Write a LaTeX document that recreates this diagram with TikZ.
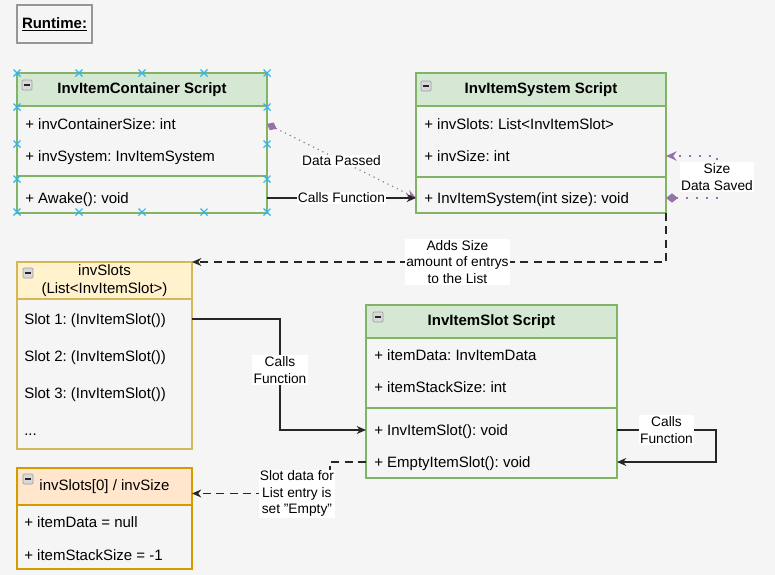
\documentclass[tikz,border=0pt]{standalone}
\usepackage{fontspec}
\setmainfont{Liberation Sans}
\usetikzlibrary{calc,arrows.meta}

\definecolor{canvas}{RGB}{245,245,245}
\definecolor{greenfill}{RGB}{213,232,212}
\definecolor{greenline}{RGB}{130,179,102}
\definecolor{yellowfill}{RGB}{255,242,204}
\definecolor{yellowline}{RGB}{214,182,86}
\definecolor{orangefill}{RGB}{255,230,204}
\definecolor{orangeline}{RGB}{215,155,0}
\definecolor{purpleline}{RGB}{150,115,166}
\definecolor{handleblue}{RGB}{41,182,242}
\definecolor{framegray}{RGB}{150,150,150}

\newcommand\itemfont{\fontsize{11.25}{13.5}\selectfont}
\newcommand\lblfont{\fontsize{10.3}{12.2}\selectfont}
\frenchspacing

\begin{document}
\begin{tikzpicture}[
    x=0.75pt, y=-0.75pt,
    classbox/.style={rectangle, anchor=north west, outer sep=0pt, inner sep=0pt, line width=0.9pt},
    headbox/.style={rectangle, anchor=north west, outer sep=0pt, inner sep=0pt, line width=0.9pt, font=\itemfont, align=center},
    member/.style={anchor=west, inner sep=0pt, font=\itemfont, text height=8pt, text depth=0pt},
    divider/.style={line width=0.9pt},
    collapse/.style={rectangle, minimum size=7.5pt, inner sep=0pt, fill=gray!30, draw=gray!75, line width=0.5pt, rounded corners=0.8pt,
        path picture={\draw[line width=1.1pt, gray!30!black] ([xshift=1.6pt]path picture bounding box.west) -- ([xshift=-1.6pt]path picture bounding box.east);}},
    lbl/.style={fill=white, text=black, inner sep=1pt, font=\lblfont, align=center},
    callarrow/.style={-{Stealth[length=7pt, width=6pt]}, line width=0.9pt, black!85},
    dasharrow/.style={callarrow, dash pattern=on 6pt off 4pt},
    dataarrow/.style={{Diamond[length=8pt, width=6.5pt]}-{Stealth[length=7pt, width=6pt]}, line width=0.9pt, purpleline, dash pattern=on 0.9pt off 3pt},
    sizearrow/.style={{Diamond[length=9pt, width=7pt]}-{Stealth[open, length=8pt, width=7pt]}, line width=1.4pt, purpleline, dash pattern=on 1.4pt off 6pt},
    handle/.style={handleblue, line width=0.8pt},
]

% Canvas
\fill[canvas] (0,0) rectangle (775,575);
\useasboundingbox (0,0) rectangle (775,575);

% Runtime title
\node[draw=framegray, line width=1.5pt, minimum width=56.25pt, minimum height=28.5pt, outer sep=0pt, anchor=north west, font=\itemfont\bfseries] (runtime) at (17,5) {\underline{Runtime:}};

% InvItemContainer Script
\node[classbox, draw=greenline, minimum width=187.5pt, minimum height=105pt] (cont) at (17,73) {};
\node[headbox, fill=greenfill, draw=greenline, minimum width=187.5pt, minimum height=24.75pt, font=\itemfont\bfseries] (conthead) at (17,73) {InvItemContainer Script};
\node[collapse] (contbtn) at (27,85) {};
\node[member] (ca1) at (25,124) {+ invContainerSize: int};
\node[member] (ca2) at (25,156) {+ invSystem: InvItemSystem};
\draw[divider, greenline] (17,176) -- (267,176);
\node[member] (cm1) at (25,198) {+ Awake(): void};

% selection handles
\foreach \hx in {17,79,142,204,267} {
    \foreach \hy in {73,212} {
        \draw[handle] (\hx-3.5,\hy-3.5) -- (\hx+3.5,\hy+3.5) (\hx-3.5,\hy+3.5) -- (\hx+3.5,\hy-3.5);
    }
}
\foreach \hx in {17,267} {
    \foreach \hy in {107,144,179} {
        \draw[handle] (\hx-3.5,\hy-3.5) -- (\hx+3.5,\hy+3.5) (\hx-3.5,\hy+3.5) -- (\hx+3.5,\hy-3.5);
    }
}

% InvItemSystem Script
\node[classbox, draw=greenline, minimum width=187.5pt, minimum height=105pt] (sys) at (416,73) {};
\node[headbox, fill=greenfill, draw=greenline, minimum width=187.5pt, minimum height=24.75pt, font=\itemfont\bfseries] (syshead) at (416,73) {InvItemSystem Script};
\node[collapse] (sysbtn) at (426,86) {};
\node[member] (sa1) at (424,124) {+ invSlots: List<InvItemSlot>};
\node[member] (sa2) at (424,156) {+ invSize: int};
\draw[divider, greenline] (416,177) -- (666,177);
\node[member] (sm1) at (424,198) {+ InvItemSystem(int size): void};

% invSlots list
\node[classbox, draw=yellowline, minimum width=131.25pt, minimum height=140.25pt] (slots) at (17,262) {};
\node[headbox, fill=yellowfill, draw=yellowline, minimum width=131.25pt, minimum height=27.75pt] (slotshead) at (17,262) {invSlots\\(List<InvItemSlot>)};
\node[collapse] (slotsbtn) at (28,273) {};
\node[member] (s1) at (24,319) {Slot 1: (InvItemSlot())};
\node[member] (s2) at (24,356) {Slot 2: (InvItemSlot())};
\node[member] (s3) at (24,393) {Slot 3: (InvItemSlot())};
\node[member] (s4) at (24,430) {...};

% InvItemSlot Script
\node[classbox, draw=greenline, minimum width=188.25pt, minimum height=129.75pt] (islot) at (366,305) {};
\node[headbox, fill=greenfill, draw=greenline, minimum width=188.25pt, minimum height=24.75pt, font=\itemfont\bfseries] (islothead) at (366,305) {InvItemSlot Script};
\node[collapse] (islotbtn) at (378,317) {};
\node[member] (ia1) at (374,355) {+ itemData: InvItemData};
\node[member] (ia2) at (374,387) {+ itemStackSize: int};
\draw[divider, greenline] (366,408) -- (617,408);
\node[member] (im1) at (374,430) {+ InvItemSlot(): void};
\node[member] (im2) at (374,462) {+ EmptyItemSlot(): void};

% invSlots[0] entry
\node[classbox, draw=orangeline, minimum width=131.25pt, minimum height=75.75pt] (empty) at (17,468) {};
\node[headbox, fill=orangefill, draw=orangeline, minimum width=131.25pt, minimum height=27.75pt] (emptyhead) at (17,468) {invSlots[0] / invSize};
\node[collapse] (emptybtn) at (28,479) {};
\node[member] (ea1) at (24,522) {+ itemData = null};
\node[member] (ea2) at (24,555) {+ itemStackSize = -1};

% Connectors
\draw[dataarrow] (ca1 -| cont.east) -- node[lbl] {Data Passed} (sm1 -| sys.west);
\draw[callarrow] (cm1 -| cont.east) -- node[lbl] {Calls Function} (cm1 -| sys.west);
\draw[sizearrow] (sm1 -| sys.east) -| ($(sm1 -| sys.east)+(51,-21)$) node[lbl] {Size\\Data Saved} |- (sa2 -| sys.east);
\draw[dasharrow] (sys.south east) |- node[lbl, pos=0.72] {Adds Size\\amount of entrys\\to the List} (slots.north east);
\coordinate (callsbend) at (280,370);
\draw[callarrow] (s1 -| slots.east) -| (callsbend) node[lbl] {Calls\\Function} |- (im1 -| islot.west);
\draw[callarrow] (im1 -| islot.east) -- node[lbl] {Calls\\Function} ++(99,0) |- (im2 -| islot.east);
\draw[dasharrow] (im2 -| islot.west) -- ++(-36,0) |- node[lbl, pos=0.62] {Slot data for\\List entry is\\set \char34 Empty\char34} ($(emptyhead.east)+(0,7)$);

\end{tikzpicture}
\end{document}
